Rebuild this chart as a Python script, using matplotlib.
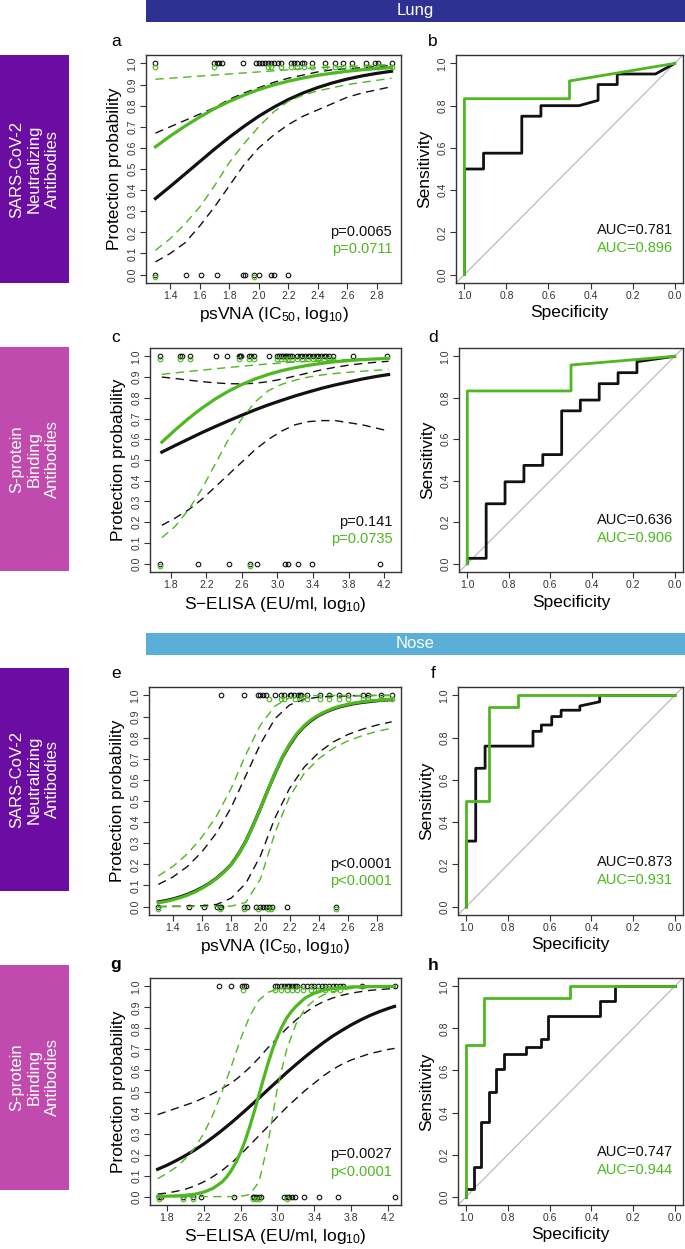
import matplotlib
matplotlib.use("Agg")
from matplotlib import pyplot as plt
from matplotlib.patches import Rectangle

plt.rcParams['font.family'] = ['Liberation Sans', 'DejaVu Sans']
plt.rcParams['mathtext.default'] = 'regular'

GREEN = '#4DB81F'
BLACK = '#111111'

# ---------------- data ----------------
# psVNA grid (log10 IC50) used for the fitted curves in panels a and e
vna_x = [1.3, 1.4, 1.5, 1.6, 1.7, 1.8, 1.9, 2.0, 2.1, 2.2, 2.3, 2.4, 2.5, 2.6, 2.7, 2.8, 2.9]
vna_fine_x = [1.30, 1.35, 1.40, 1.45, 1.50, 1.55, 1.60, 1.65, 1.70, 1.75, 1.80, 1.85, 1.90, 1.95, 2.00, 2.05, 2.10,
              2.15, 2.20, 2.25, 2.30, 2.35, 2.40, 2.45, 2.50, 2.55, 2.60, 2.65, 2.70, 2.75, 2.80, 2.85, 2.90]

# panel a  (lung, psVNA)
a_fit_black = [0.360, 0.417, 0.476, 0.535, 0.594, 0.650, 0.702, 0.750, 0.792, 0.829, 0.860, 0.886, 0.908, 0.926, 0.941, 0.953, 0.963]
a_lo_black = [0.06, 0.10, 0.15, 0.23, 0.32, 0.42, 0.52, 0.60, 0.66, 0.71, 0.75, 0.78, 0.81, 0.84, 0.86, 0.875, 0.89]
a_hi_black = [0.67, 0.70, 0.73, 0.76, 0.79, 0.83, 0.86, 0.885, 0.91, 0.93, 0.945, 0.96, 0.97, 0.975, 0.98, 0.985, 0.99]
a_fit_green = [0.605, 0.656, 0.703, 0.746, 0.786, 0.820, 0.850, 0.876, 0.898, 0.916, 0.931, 0.944, 0.954, 0.963, 0.970, 0.976, 0.980]
a_lo_green = [0.115, 0.17, 0.24, 0.32, 0.42, 0.53, 0.62, 0.70, 0.77, 0.82, 0.85, 0.87, 0.885, 0.90, 0.91, 0.92, 0.93]
a_hi_green = [0.925, 0.93, 0.935, 0.94, 0.945, 0.95, 0.955, 0.96, 0.965, 0.97, 0.975, 0.98, 0.983, 0.986, 0.989, 0.992, 0.995]
a_top_black = [1.30, 1.70, 1.72, 1.73, 1.75, 1.89, 1.98, 2.00, 2.02, 2.04, 2.06, 2.08, 2.10, 2.13, 2.15, 2.22, 2.24,
               2.26, 2.29, 2.31, 2.36, 2.45, 2.52, 2.57, 2.63, 2.73, 2.79, 2.81, 2.90]
a_top_green = [1.30, 1.70, 2.06, 2.08, 2.15, 2.22, 2.26, 2.31, 2.36, 2.45, 2.52, 2.57, 2.63, 2.73, 2.81, 2.90]
a_bot_black = [1.30, 1.51, 1.61, 1.72, 1.89, 1.91, 1.97, 2.00, 2.08, 2.10, 2.20]
a_bot_green = [1.30, 1.97]

# panel c  (lung, S-ELISA)
elisa_c_x = [1.70, 1.85, 2.00, 2.15, 2.30, 2.45, 2.60, 2.75, 2.90, 3.05, 3.20, 3.35, 3.50, 3.65, 3.80, 3.95, 4.10, 4.25]
c_fit_black = [0.538, 0.570, 0.601, 0.632, 0.661, 0.689, 0.716, 0.742, 0.766, 0.788, 0.809, 0.828, 0.846, 0.862, 0.876, 0.890, 0.902, 0.912]
c_lo_black = [0.185, 0.22, 0.26, 0.31, 0.37, 0.43, 0.49, 0.55, 0.60, 0.64, 0.67, 0.685, 0.69, 0.69, 0.68, 0.67, 0.655, 0.64]
c_hi_black = [0.90, 0.893, 0.885, 0.878, 0.872, 0.868, 0.867, 0.870, 0.878, 0.89, 0.905, 0.92, 0.935, 0.947, 0.957, 0.965, 0.971, 0.976]
c_fit_green = [0.586, 0.645, 0.700, 0.750, 0.794, 0.832, 0.864, 0.891, 0.913, 0.931, 0.945, 0.957, 0.966, 0.974, 0.979, 0.984, 0.987, 0.990]
c_lo_green = [0.125, 0.18, 0.26, 0.36, 0.48, 0.60, 0.70, 0.78, 0.835, 0.865, 0.885, 0.90, 0.91, 0.917, 0.923, 0.928, 0.932, 0.936]
c_hi_green = [0.913, 0.92, 0.927, 0.933, 0.94, 0.946, 0.952, 0.958, 0.963, 0.968, 0.972, 0.976, 0.979, 0.982, 0.985, 0.987, 0.989, 0.991]
c_top_black = [1.68, 1.91, 1.93, 2.02, 2.31, 2.43, 2.57, 2.58, 2.59, 2.68, 2.70, 2.74, 2.90, 3.00, 3.02, 3.04, 3.06, 3.08,
               3.10, 3.12, 3.14, 3.16, 3.22, 3.25, 3.28, 3.31, 3.34, 3.37, 3.40, 3.43, 3.46, 3.49, 3.52, 3.55, 3.58,
               3.62, 3.85, 4.23]
c_top_green = [1.68, 1.91, 2.02, 2.57, 2.68, 2.74, 3.00, 3.04, 3.08, 3.12, 3.16, 3.22, 3.28, 3.34, 3.40, 3.46, 3.52, 3.58, 3.62]
c_bot_black = [1.68, 2.11, 2.46, 2.69, 2.77, 3.09, 3.12, 3.23, 3.39, 4.15]
c_bot_green = [1.68, 2.69]

# panel e  (nose, psVNA); fitted curves read on the finer grid
e_fit_black = [0.022, 0.028, 0.036, 0.046, 0.058, 0.073, 0.09, 0.11, 0.135, 0.165, 0.20, 0.25, 0.31, 0.385, 0.465,
               0.55, 0.63, 0.705, 0.765, 0.815, 0.853, 0.882, 0.905, 0.922, 0.936, 0.947, 0.955, 0.962, 0.967,
               0.971, 0.975, 0.978, 0.98]
e_fit_green = [0.018, 0.024, 0.032, 0.042, 0.054, 0.069, 0.087, 0.108, 0.133, 0.163, 0.199, 0.248, 0.308, 0.383,
               0.464, 0.55, 0.632, 0.708, 0.769, 0.819, 0.857, 0.886, 0.908, 0.925, 0.939, 0.950, 0.958, 0.965,
               0.97, 0.974, 0.977, 0.98, 0.982]
e_lo_black = [0.0, 0.001, 0.002, 0.004, 0.01, 0.04, 0.11, 0.24, 0.42, 0.56, 0.66, 0.73, 0.78, 0.815, 0.84, 0.86, 0.875]
e_hi_black = [0.105, 0.14, 0.19, 0.26, 0.35, 0.47, 0.62, 0.77, 0.89, 0.955, 0.982, 0.992, 0.996, 0.998, 0.999, 1.0, 1.0]
e_lo_green = [0.0, 0.0, 0.0, 0.0, 0.0, 0.002, 0.02, 0.13, 0.35, 0.52, 0.63, 0.70, 0.75, 0.785, 0.81, 0.83, 0.845]
e_hi_green = [0.145, 0.19, 0.25, 0.33, 0.43, 0.56, 0.72, 0.86, 0.95, 0.99, 0.998, 1.0, 1.0, 1.0, 1.0, 1.0, 1.0]
e_top_black = [1.73, 1.89, 1.98, 2.00, 2.02, 2.04, 2.10, 2.14, 2.16, 2.20, 2.21, 2.23, 2.26, 2.27, 2.28, 2.32, 2.41,
               2.47, 2.54, 2.60, 2.70, 2.74, 2.83, 2.90]
e_top_green = [2.06, 2.14, 2.16, 2.24, 2.28, 2.32, 2.41, 2.47, 2.54, 2.60, 2.70, 2.74, 2.83, 2.90]
e_bot_black = [1.30, 1.51, 1.61, 1.70, 1.72, 1.73, 1.89, 1.91, 1.97, 2.00, 2.02, 2.04, 2.06, 2.08, 2.18, 2.52]
e_bot_green = [1.30, 1.72, 1.89, 1.98, 2.05, 2.07, 2.52]

# panel g  (nose, S-ELISA)
elisa_g_x = [1.7, 1.8, 1.9, 2.0, 2.1, 2.2, 2.3, 2.4, 2.5, 2.6, 2.7, 2.8, 2.9, 3.0, 3.1, 3.2, 3.3, 3.4, 3.5, 3.6,
             3.7, 3.8, 3.9, 4.0, 4.1, 4.2, 4.27]
g_fit_black = [0.130, 0.149, 0.171, 0.195, 0.221, 0.250, 0.282, 0.316, 0.352, 0.390, 0.429, 0.469, 0.510, 0.550,
               0.590, 0.628, 0.665, 0.700, 0.733, 0.764, 0.791, 0.817, 0.840, 0.861, 0.879, 0.895, 0.905]
g_lo_black = [0.012, 0.017, 0.025, 0.035, 0.05, 0.07, 0.095, 0.125, 0.16, 0.20, 0.245, 0.29, 0.335, 0.38, 0.425,
              0.465, 0.505, 0.54, 0.575, 0.605, 0.63, 0.65, 0.665, 0.68, 0.69, 0.70, 0.705]
g_hi_black = [0.39, 0.405, 0.42, 0.435, 0.45, 0.47, 0.49, 0.515, 0.54, 0.575, 0.615, 0.66, 0.71, 0.755, 0.80,
              0.84, 0.875, 0.905, 0.928, 0.945, 0.958, 0.968, 0.975, 0.981, 0.985, 0.988, 0.99]
g_lo_green = [0.0, 0.0, 0.0, 0.0, 0.0, 0.0, 0.0, 0.0, 0.0, 0.001, 0.01, 0.07, 0.26, 0.52, 0.70, 0.82, 0.895,
              0.935, 0.96, 0.975, 0.984, 0.99, 0.993, 0.995, 0.997, 0.998, 0.998]
g_hi_green = [0.085, 0.11, 0.14, 0.18, 0.23, 0.30, 0.39, 0.50, 0.62, 0.75, 0.86, 0.935, 0.972, 0.988, 0.995,
              0.998, 0.999, 1.0, 1.0, 1.0, 1.0, 1.0, 1.0, 1.0, 1.0, 1.0, 1.0]
# steep green fit, read more densely
g_green_x = [1.7, 1.8, 1.9, 2.0, 2.1, 2.2, 2.3, 2.4, 2.45, 2.5, 2.55, 2.6, 2.65, 2.7, 2.75, 2.8, 2.85, 2.9, 2.95,
             3.0, 3.05, 3.1, 3.15, 3.2, 3.3, 3.4, 3.5, 3.6, 3.8, 4.0, 4.27]
g_fit_green = [0.001, 0.002, 0.003, 0.006, 0.011, 0.021, 0.039, 0.070, 0.094, 0.125, 0.163, 0.211, 0.267, 0.334,
               0.407, 0.485, 0.563, 0.638, 0.705, 0.762, 0.81, 0.85, 0.88, 0.905, 0.945, 0.968, 0.982, 0.99,
               0.997, 0.999, 1.0]
g_top_black = [2.37, 2.50, 2.62, 2.64, 2.66, 2.97, 3.00, 3.04, 3.07, 3.10, 3.13, 3.16, 3.19, 3.21, 3.28, 3.32,
               3.36, 3.40, 3.44, 3.48, 3.52, 3.56, 3.60, 3.64, 3.68, 3.71, 3.92, 4.27]
g_top_green = [2.63, 2.97, 3.04, 3.10, 3.16, 3.21, 3.28, 3.36, 3.44, 3.52, 3.60, 3.68]
g_bot_black = [1.72, 1.74, 1.97, 2.08, 2.17, 2.53, 2.73, 2.75, 2.77, 2.80, 2.82, 3.07, 3.10, 3.13, 3.16, 3.19,
               3.29, 3.45, 3.66, 4.27]
g_bot_green = [1.72, 1.97, 2.08, 2.73, 2.77, 2.80, 3.10]

# ROC curves (specificity, sensitivity)
b_spec_black = [1.0, 1.0, 0.909, 0.909, 0.727, 0.727, 0.636, 0.636, 0.455, 0.364, 0.364, 0.273, 0.273, 0.091, 0.0]
b_sens_black = [0.0, 0.5, 0.5, 0.575, 0.575, 0.75, 0.75, 0.80, 0.80, 0.825, 0.90, 0.90, 0.95, 0.95, 1.0]
b_spec_green = [1.0, 1.0, 0.5, 0.5, 0.0]
b_sens_green = [0.0, 0.833, 0.833, 0.917, 1.0]

d_spec_black = [1.0, 1.0, 0.909, 0.909, 0.818, 0.818, 0.727, 0.727, 0.636, 0.636, 0.545, 0.545, 0.455, 0.455,
                0.364, 0.364, 0.273, 0.273, 0.182, 0.182, 0.0]
d_sens_black = [0.0, 0.026, 0.026, 0.289, 0.289, 0.395, 0.395, 0.474, 0.474, 0.526, 0.526, 0.737, 0.737, 0.789,
                0.789, 0.868, 0.868, 0.921, 0.921, 0.974, 1.0]
d_spec_green = [1.0, 1.0, 0.5, 0.5, 0.0]
d_sens_green = [0.0, 0.833, 0.833, 0.958, 1.0]

f_spec_black = [1.0, 1.0, 0.955, 0.955, 0.91, 0.91, 0.68, 0.68, 0.64, 0.64, 0.59, 0.59, 0.545, 0.545, 0.455, 0.455,
                0.36, 0.36, 0.0]
f_sens_black = [0.0, 0.31, 0.31, 0.655, 0.655, 0.76, 0.76, 0.83, 0.83, 0.86, 0.86, 0.90, 0.90, 0.93, 0.93, 0.95,
                0.97, 1.0, 1.0]
f_spec_green = [1.0, 1.0, 0.89, 0.89, 0.75, 0.75, 0.0]
f_sens_green = [0.0, 0.5, 0.5, 0.944, 0.944, 1.0, 1.0]

h_spec_black = [1.0, 1.0, 0.964, 0.964, 0.929, 0.929, 0.893, 0.893, 0.857, 0.857, 0.821, 0.821, 0.714, 0.714,
                0.643, 0.643, 0.607, 0.607, 0.357, 0.357, 0.286, 0.286, 0.0]
h_sens_black = [0.0, 0.036, 0.036, 0.143, 0.143, 0.357, 0.357, 0.5, 0.5, 0.607, 0.607, 0.679, 0.679, 0.714,
                0.714, 0.75, 0.75, 0.857, 0.857, 0.929, 0.929, 1.0, 1.0]
h_spec_green = [1.0, 1.0, 0.915, 0.915, 0.5, 0.5, 0.0]
h_sens_green = [0.0, 0.72, 0.72, 0.944, 0.944, 1.0, 1.0]

p_text = {'a': ('p=0.0065', 'p=0.0711'), 'c': ('p=0.141', 'p=0.0735'),
          'e': ('p<0.0001', 'p<0.0001'), 'g': ('p=0.0027', 'p<0.0001')}
auc_text = {'b': ('AUC=0.781', 'AUC=0.896'), 'd': ('AUC=0.636', 'AUC=0.906'),
            'f': ('AUC=0.873', 'AUC=0.931'), 'h': ('AUC=0.747', 'AUC=0.944')}

vna_label = 'psVNA (IC$_{50}$, log$_{10}$)'
elisa_label = 'S\u2212ELISA (EU/ml, log$_{10}$)'

# ---------------- layout ----------------
W, H = 685, 1249
fig = plt.figure(figsize=(W / 100, H / 100), dpi=100)
DASH = (0, (6, 4))


def px_axes(left, top, right, bottom):
    return fig.add_axes([left / W, 1 - bottom / H, (right - left) / W, (bottom - top) / H])


def style(ax):
    for s in ax.spines.values():
        s.set_linewidth(1.0)
        s.set_color('#333333')
    ax.tick_params(direction='out', length=4, width=0.8, labelsize=7.5, colors='#333333', pad=2)
    ax.tick_params(axis='y', labelrotation=90)
    for lab in ax.get_yticklabels():
        lab.set_va('center')


def logistic_panel(ax, black, green, points, xlim, xticks, xlabel, ptxt):
    tb, tg, bb, bg = points
    ax.plot(tb, [1.0] * len(tb), 'o', mfc='none', mec=BLACK, ms=3.3, mew=0.8, clip_on=False)
    ax.plot(bb, [0.0] * len(bb), 'o', mfc='none', mec=BLACK, ms=3.3, mew=0.8, clip_on=False)
    (xf, yf), (xl, yl), (xh, yh) = black
    ax.plot(xf, yf, color=BLACK, lw=2.3)
    ax.plot(xl, yl, color=BLACK, lw=1.0, ls=DASH)
    ax.plot(xh, yh, color=BLACK, lw=1.0, ls=DASH)
    ax.plot(tg, [0.985] * len(tg), 'o', mfc='none', mec=GREEN, ms=3.3, mew=0.8, clip_on=False)
    ax.plot(bg, [-0.012] * len(bg), 'o', mfc='none', mec=GREEN, ms=3.3, mew=0.8, clip_on=False)
    (xf, yf), (xl, yl), (xh, yh) = green
    ax.plot(xf, yf, color=GREEN, lw=2.3)
    ax.plot(xl, yl, color=GREEN, lw=1.0, ls=DASH)
    ax.plot(xh, yh, color=GREEN, lw=1.0, ls=DASH)
    ax.set_xlim(*xlim)
    ax.set_ylim(-0.04, 1.04)
    ax.set_xticks(xticks)
    ax.set_xticklabels(['%.1f' % t for t in xticks])
    ax.set_yticks([i / 10 for i in range(11)])
    ax.set_yticklabels(['%.1f' % (i / 10) for i in range(11)])
    ax.set_xlabel(xlabel, fontsize=12.5, labelpad=3)
    ax.set_ylabel('Protection probability', fontsize=12.5, labelpad=4)
    ax.text(0.965, 0.225, ptxt[0], transform=ax.transAxes, ha='right', va='center', fontsize=10.5, color=BLACK)
    ax.text(0.965, 0.147, ptxt[1], transform=ax.transAxes, ha='right', va='center', fontsize=10.5, color=GREEN)
    style(ax)


def roc_panel(ax, sb, nb, sg, ng, atxt):
    ax.plot([1.04, -0.04], [-0.04, 1.04], color='#BBBBBB', lw=0.9)
    ax.plot(sb, nb, color=BLACK, lw=2.0)
    ax.plot(sg, ng, color=GREEN, lw=2.0)
    ax.set_xlim(1.04, -0.04)
    ax.set_ylim(-0.04, 1.04)
    ticks = [0.0, 0.2, 0.4, 0.6, 0.8, 1.0]
    ax.set_xticks(ticks)
    ax.set_xticklabels(['%.1f' % t for t in ticks])
    ax.set_yticks(ticks)
    ax.set_yticklabels(['%.1f' % t for t in ticks])
    ax.set_xlabel('Specificity', fontsize=12.5, labelpad=3)
    ax.set_ylabel('Sensitivity', fontsize=12.5, labelpad=4)
    ax.text(0.955, 0.232, atxt[0], transform=ax.transAxes, ha='right', va='center', fontsize=10.5, color=BLACK)
    ax.text(0.955, 0.154, atxt[1], transform=ax.transAxes, ha='right', va='center', fontsize=10.5, color=GREEN)
    style(ax)


vna_lim = (1.236, 2.964)
vna_ticks = [1.4, 1.6, 1.8, 2.0, 2.2, 2.4, 2.6, 2.8]
elisa_ticks = [1.8, 2.2, 2.6, 3.0, 3.4, 3.8, 4.2]

ax_a = px_axes(146, 55, 401, 283)
logistic_panel(ax_a,
               [(vna_x, a_fit_black), (vna_x, a_lo_black), (vna_x, a_hi_black)],
               [(vna_x, a_fit_green), (vna_x, a_lo_green), (vna_x, a_hi_green)],
               (a_top_black, a_top_green, a_bot_black, a_bot_green), vna_lim, vna_ticks, vna_label, p_text['a'])
ax_b = px_axes(456, 55, 683, 283)
roc_panel(ax_b, b_spec_black, b_sens_black, b_spec_green, b_sens_green, auc_text['b'])

ax_c = px_axes(150, 348, 401, 572)
logistic_panel(ax_c,
               [(elisa_c_x, c_fit_black), (elisa_c_x, c_lo_black), (elisa_c_x, c_hi_black)],
               [(elisa_c_x, c_fit_green), (elisa_c_x, c_lo_green), (elisa_c_x, c_hi_green)],
               (c_top_black, c_top_green, c_bot_black, c_bot_green), (1.567, 4.39), elisa_ticks, elisa_label,
               p_text['c'])
ax_d = px_axes(459, 348, 683, 572)
roc_panel(ax_d, d_spec_black, d_sens_black, d_spec_green, d_sens_green, auc_text['d'])

ax_e = px_axes(149, 687, 401, 915)
logistic_panel(ax_e,
               [(vna_fine_x, e_fit_black), (vna_x, e_lo_black), (vna_x, e_hi_black)],
               [(vna_fine_x, e_fit_green), (vna_x, e_lo_green), (vna_x, e_hi_green)],
               (e_top_black, e_top_green, e_bot_black, e_bot_green), vna_lim, vna_ticks, vna_label, p_text['e'])
ax_f = px_axes(458, 687, 683, 915)
roc_panel(ax_f, f_spec_black, f_sens_black, f_spec_green, f_sens_green, auc_text['f'])

ax_g = px_axes(150, 978, 401, 1205)
logistic_panel(ax_g,
               [(elisa_g_x, g_fit_black), (elisa_g_x, g_lo_black), (elisa_g_x, g_hi_black)],
               [(g_green_x, g_fit_green), (elisa_g_x, g_lo_green), (elisa_g_x, g_hi_green)],
               (g_top_black, g_top_green, g_bot_black, g_bot_green), (1.617, 4.34), elisa_ticks, elisa_label,
               p_text['g'])
ax_h = px_axes(458, 978, 683, 1205)
roc_panel(ax_h, h_spec_black, h_sens_black, h_spec_green, h_sens_green, auc_text['h'])

# panel letters
letters = [('a', 116, 42, 'normal'), ('b', 433, 42, 'normal'), ('c', 116, 337, 'normal'), ('d', 433, 337, 'normal'),
           ('e', 116, 674, 'normal'), ('f', 433, 674, 'normal'), ('g', 116, 965, 'bold'), ('h', 433, 965, 'bold')]
for s, x, y, w in letters:
    fig.text(x / W, 1 - y / H, s, fontsize=12.5, fontweight=w, ha='center', va='center')

# header bars
fig.add_artist(Rectangle((146 / W, 1 - 22 / H), (W - 146) / W, 22 / H, transform=fig.transFigure,
                         facecolor='#2E3192', edgecolor='none'))
fig.text((146 + W) / 2 / W, 1 - 11 / H, 'Lung', color='white', fontsize=12, ha='center', va='center')
fig.add_artist(Rectangle((146 / W, 1 - 655 / H), (W - 146) / W, 22 / H, transform=fig.transFigure,
                         facecolor='#5AAED8', edgecolor='none'))
fig.text((146 + W) / 2 / W, 1 - 644 / H, 'Nose', color='white', fontsize=12, ha='center', va='center')

# side boxes
side = [(55, 283, '#6B0CA3', 'SARS-CoV-2\nNeutralizing\nAntibodies'),
        (347, 571, '#C04AAE', 'S-protein\nBinding\nAntibodies'),
        (668, 891, '#6B0CA3', 'SARS-CoV-2\nNeutralizing\nAntibodies'),
        (965, 1190, '#C04AAE', 'S-protein\nBinding\nAntibodies')]
for top, bot, col, txt in side:
    fig.add_artist(Rectangle((0, 1 - bot / H), 69 / W, (bot - top) / H, transform=fig.transFigure,
                             facecolor=col, edgecolor='none'))
    fig.text(34.5 / W, 1 - (top + bot) / 2 / H, txt, color='white', fontsize=12, rotation=90,
             ha='center', va='center', multialignment='center', linespacing=1.25)

fig.savefig('out.png', dpi=100)
